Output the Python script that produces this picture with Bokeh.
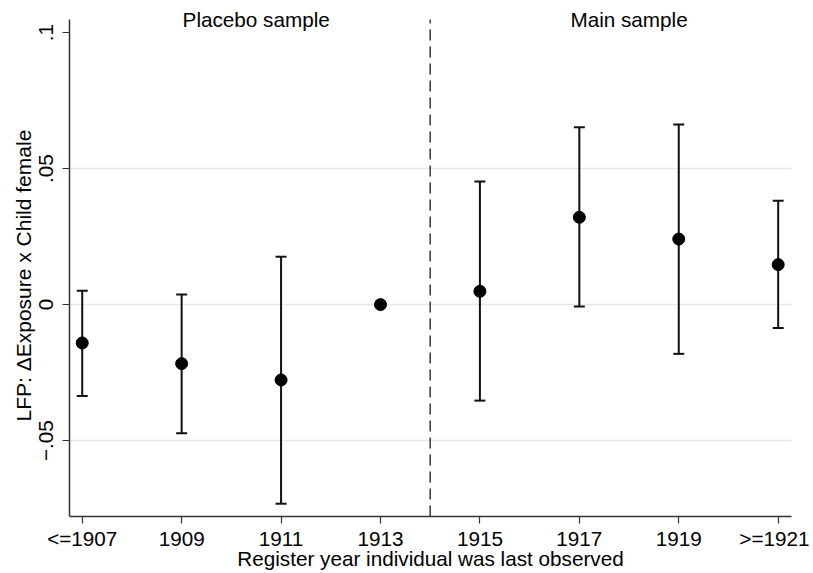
import numpy as np
from bokeh.plotting import figure
from bokeh.models import FixedTicker, Range1d, Label, ColumnDataSource, Whisker, TeeHead, Title
from bokeh.embed import file_html
from bokeh.resources import INLINE

# ---- data ----
labels = ["<=1907", "1909", "1911", "1913", "1915", "1917", "1919", ">=1921"]
coef = [-0.0141, -0.0217, -0.0277, 0.0, 0.0049, 0.0321, 0.0241, 0.0147]
lower = [-0.0336, -0.0473, -0.0732, np.nan, -0.0353, -0.0007, -0.0181, -0.0086]
upper = [0.0051, 0.0037, 0.0176, np.nan, 0.0453, 0.0652, 0.0662, 0.0382]
y_ticks = [-0.05, 0, 0.05, 0.1]
y_tick_labels = ["\u2212.05", "0", ".05", ".1"]
y_axis_min, y_axis_max = -0.0779, 0.1048
cutoff = 3.5
group_titles = ["Placebo sample", "Main sample"]
group_title_x = [1.75, 5.5]
x_title = "Register year individual was last observed"
y_title = "LFP: \u0394Exposure x Child female"

FONT = "Liberation Sans"
FS = "20.7px"

xs = list(range(len(labels)))
p = figure(width=809, height=573, output_backend="svg", toolbar_location=None,
           x_range=Range1d(-0.128, 7.134), y_range=Range1d(y_axis_min, 0.1118),
           min_border_left=69, min_border_right=18, min_border_top=0, min_border_bottom=57)
p.outline_line_color = None
p.background_fill_color = "white"
p.border_fill_color = "white"

# grid
p.xgrid.visible = False
p.ygrid.ticker = FixedTicker(ticks=[-0.05, 0, 0.05])
p.ygrid.grid_line_color = "#e8e8e8"
p.ygrid.grid_line_width = 1.5

# axes
p.xaxis.ticker = FixedTicker(ticks=xs)
p.xaxis.major_label_overrides = {i: l for i, l in zip(xs, labels)}
p.yaxis.ticker = FixedTicker(ticks=y_ticks)
p.yaxis.major_label_overrides = {t: l for t, l in zip(y_ticks, y_tick_labels)}
p.yaxis.major_label_orientation = "vertical"
p.yaxis.bounds = (y_axis_min, y_axis_max)
for ax in (p.xaxis, p.yaxis):
    ax.axis_line_color = "#333333"
    ax.axis_line_width = 1.5
    ax.major_tick_line_color = "#333333"
    ax.major_tick_line_width = 1.2
    ax.major_tick_in = 0
    ax.major_tick_out = 7
    ax.minor_tick_line_color = None
    ax.major_label_text_font = FONT
    ax.major_label_text_font_size = FS
    ax.major_label_text_color = "black"
    ax.axis_label_text_font = FONT
    ax.axis_label_text_font_size = FS
    ax.axis_label_text_font_style = "normal"
    ax.axis_label_text_color = "black"
p.xaxis.major_label_standoff = 3
p.xaxis.axis_label_standoff = -6
p.yaxis.major_label_standoff = 9
p.xaxis.axis_label = x_title

# y-axis title as a left-side title, positioned along the axis
p.add_layout(Title(text=y_title, align="left", offset=95, standoff=4,
                   text_font=FONT, text_font_size="21px", text_font_style="normal",
                   text_color="black"), "left")

# dashed cutoff line (limited to the axis extent)
p.segment(x0=[cutoff], y0=[y_axis_min], x1=[cutoff], y1=[y_axis_max],
          line_color="#444444", line_width=1.6, line_dash="11 6")

# error bars
ci_idx = [i for i in xs if not np.isnan(lower[i])]
src_ci = ColumnDataSource(dict(x=[xs[i] for i in ci_idx],
                               lo=[lower[i] for i in ci_idx],
                               hi=[upper[i] for i in ci_idx]))
p.add_layout(Whisker(source=src_ci, base="x", lower="lo", upper="hi", dimension="height",
                     line_color="#111111", line_width=2,
                     upper_head=TeeHead(size=11, line_color="#111111", line_width=2),
                     lower_head=TeeHead(size=11, line_color="#111111", line_width=2)))

# points
p.scatter(xs, coef, size=12, marker="circle", fill_color="black", line_color="black")

# group titles
for t, gx in zip(group_titles, group_title_x):
    p.add_layout(Label(x=gx, y=0.1047, text=t, text_align="center", text_baseline="alphabetic",
                       text_font=FONT, text_font_size=FS, text_color="black"))

open("out.html", "w").write(file_html(p, INLINE))
